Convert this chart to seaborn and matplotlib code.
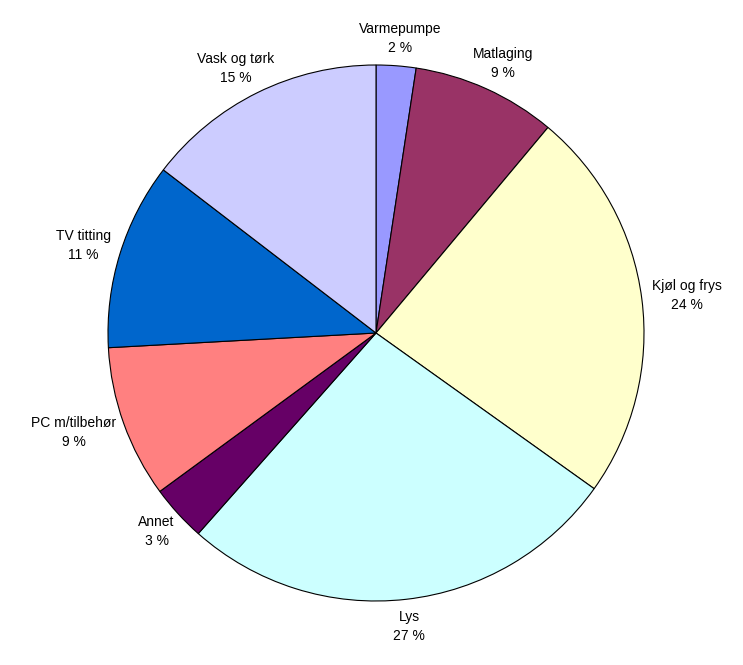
import matplotlib
matplotlib.use("Agg")
import matplotlib.pyplot as plt
import seaborn as sns
import numpy as np

sns.set_theme(style="white")
plt.rcParams['font.family'] = ['Liberation Sans', 'DejaVu Sans']

categories = ["Varmepumpe", "Matlaging", "Kjøl og frys", "Lys", "Annet",
              "PC m/tilbehør", "TV titting", "Vask og tørk"]
values = [2.4, 8.7, 23.8, 26.7, 3.4, 9.2, 11.3, 14.6]
percent_labels = ["2 %", "9 %", "24 %", "27 %", "3 %", "9 %", "11 %", "15 %"]
colors = ["#9999FF", "#993366", "#FFFFCC", "#CCFFFF", "#660066",
          "#FF8080", "#0066CC", "#CCCCFF"]

W, H, DPI = 743, 665, 100
fig = plt.figure(figsize=(W / DPI, H / DPI), dpi=DPI)
fig.patch.set_facecolor("white")
ax = fig.add_axes([0, 0, 1, 1])

cx, cy, R = 376, 665 - 333, 268  # pixel center / radius
wedges, _ = ax.pie(values, colors=colors, startangle=90, counterclock=False,
                   wedgeprops=dict(edgecolor="black", linewidth=0.8))
ax.set_aspect("auto")
ax.set_xlim(-cx / R, (W - cx) / R)
ax.set_ylim(-cy / R, (H - cy) / R)
ax.axis("off")

fig.canvas.draw()
renderer = fig.canvas.get_renderer()
for w, name, pct in zip(wedges, categories, percent_labels):
    ang = np.deg2rad((w.theta1 + w.theta2) / 2)
    c, s = np.cos(ang), np.sin(ang)
    t = ax.text(0, 0, f"{name}\n{pct}", ha="center", va="center",
                fontsize=10, color="black", linespacing=1.45)
    bb = t.get_window_extent(renderer)
    ra = 1.04
    x = ra * c + c * (bb.width / 2) / R
    y = ra * s + s * (bb.height / 2) / R
    t.set_position((x, y))

fig.savefig("out.png", dpi=DPI, facecolor="white")
